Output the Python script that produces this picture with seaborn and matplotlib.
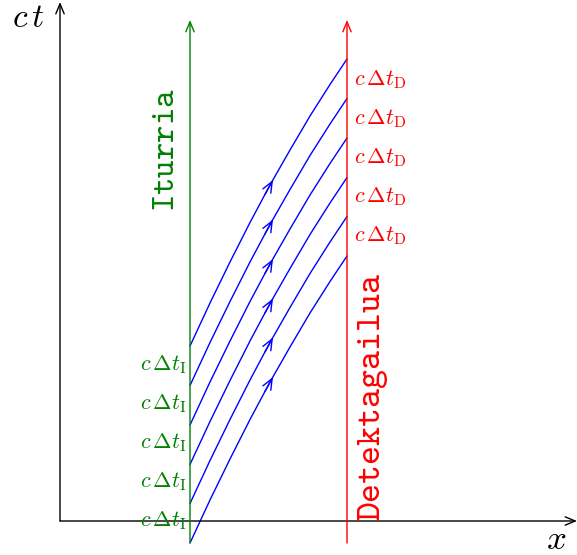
import numpy as np
import pandas as pd
import matplotlib
matplotlib.use("Agg")
import matplotlib.pyplot as plt
import seaborn as sns

sns.set_theme(style="white")
plt.rcParams["mathtext.fontset"] = "cm"
plt.rcParams["font.family"] = ["DejaVu Serif"]

# ---- data (in pixel-like units, y upward) ----
origin = (60, 34)
source_x = 190          # "Iturria" worldline
detector_x = 347        # "Detektagailua" worldline
line_bottom = 12
line_top = 535
# start heights of the signal curves on the source line
start_heights = [12, 51.5, 90.5, 130, 169.5, 209]
# shape of one signal curve (offset from its start point)
curve_dx = [0, 20, 40, 60, 80, 100, 120, 140, 157]
curve_dy = [0, 43, 84, 123.5, 161, 196, 230, 261.5, 287]
arrow_dx = 83
arrow_dy = 166
# label positions
source_label_y = [34, 73, 112, 151, 190]
detector_label_y = [475, 436, 397, 358, 319]

fig = plt.figure(figsize=(5.77, 5.55), dpi=100)
ax = fig.add_axes([0, 0, 1, 1])

ap = dict(arrowstyle="->,head_length=0.6,head_width=0.25", lw=1.0,
          shrinkA=0, shrinkB=0, mutation_scale=12)

# signal curves
for h in start_heights:
    df = pd.DataFrame({"x": [source_x + d for d in curve_dx],
                       "y": [h + d for d in curve_dy]})
    sns.lineplot(data=df, x="x", y="y", ax=ax, color="blue", lw=1.0,
                 sort=False, estimator=None)
    ax.annotate("", xy=(source_x + arrow_dx, h + arrow_dy),
                xytext=(source_x + arrow_dx - 8, h + arrow_dy - 14.4),
                arrowprops=dict(ap, color="blue", mutation_scale=13))

ax.set_xlim(0, 577)
ax.set_ylim(0, 555)
ax.axis("off")

# axes
ax.annotate("", xy=(origin[0], 553), xytext=origin, arrowprops=dict(ap, color="black"))
ax.annotate("", xy=(577, origin[1]), xytext=origin, arrowprops=dict(ap, color="black"))
ax.text(12, 537, r"$c\,t$", fontsize=24, color="black", va="center", ha="left")
ax.text(546, 16, r"$x$", fontsize=25, color="black", va="center", ha="left")

# worldlines
green = "#008000"
ax.annotate("", xy=(source_x, line_top), xytext=(source_x, line_bottom),
            arrowprops=dict(ap, color=green))
ax.annotate("", xy=(detector_x, line_top), xytext=(detector_x, line_bottom),
            arrowprops=dict(ap, color="red"))

for y in source_label_y:
    ax.text(187, y, r"$c\,\Delta t_\mathrm{I}$", fontsize=16, color=green,
            ha="right", va="center")
for y in detector_label_y:
    ax.text(354, y, r"$c\,\Delta t_\mathrm{D}$", fontsize=16, color="red",
            ha="left", va="center")

ax.text(165, 405, r"$\mathtt{Iturria}$", fontsize=24, color=green,
        rotation=90, ha="center", va="center")
ax.text(373, 158, r"$\mathtt{Detektagailua}$", fontsize=26, color="red",
        rotation=90, ha="center", va="center")

fig.savefig("out.png", dpi=100)
